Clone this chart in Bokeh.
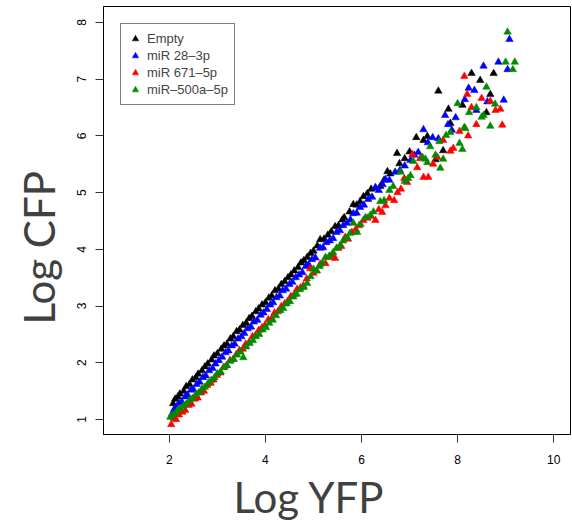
import math
from bokeh.plotting import figure
from bokeh.models import Range1d, FixedTicker, Legend, LegendItem, Title
from bokeh.embed import file_html
from bokeh.resources import INLINE

# ---------------- data ----------------
series_names = ["Empty", "miR 28–3p", "miR 671–5p", "miR–500a–5p"]
series_colors = ["#000000", "#0000ff", "#ff0000", "#008b00"]

empty_x = [2.08,2.12,2.18,2.22,2.30,2.35,2.42,2.48,2.55,2.60,2.68,2.74,2.80,2.88,2.93,3.00,
           3.08,3.14,3.20,3.27,3.33,3.40,3.46,3.53,3.60,3.66,3.72,3.80,3.86,3.93,4.00,
           4.07,4.13,4.20,4.27,4.33,4.40,4.47,4.53,4.60,4.68,4.74,4.80,4.87,4.94,5.00,
           5.08,5.14,5.22,5.30,5.37,5.45,5.52,5.60,5.64,5.75,5.83,5.90,5.97,
           6.04,6.12,6.20,6.29,6.39,6.47,6.54,6.60,6.74,6.79,6.90,7.00,
           7.14,7.29,7.37,7.54,7.60,7.70,7.81,7.85,8.10,8.29,8.47,8.60,8.68,8.75]
empty_y = [1.28,1.36,1.40,1.45,1.50,1.58,1.62,1.70,1.74,1.80,1.86,1.93,1.98,2.05,2.12,2.16,
           2.24,2.30,2.33,2.42,2.46,2.55,2.58,2.66,2.70,2.78,2.82,2.90,2.95,3.02,3.06,
           3.14,3.18,3.27,3.30,3.38,3.43,3.50,3.55,3.62,3.68,3.76,3.80,3.86,3.93,3.97,
           4.06,4.17,4.18,4.25,4.31,4.40,4.42,4.52,4.56,4.66,4.79,4.78,4.84,
           4.93,4.98,5.06,5.08,5.11,5.22,5.37,5.33,5.69,5.51,5.60,5.72,
           5.97,5.92,5.99,5.58,6.79,5.74,6.47,6.22,6.54,7.10,6.98,6.41,6.73,7.10]

mir28_x = [2.06,2.10,2.15,2.20,2.26,2.33,2.38,2.45,2.50,2.57,2.63,2.70,2.76,2.83,2.90,2.96,
           3.03,3.10,3.17,3.23,3.30,3.36,3.43,3.50,3.56,3.63,3.70,3.76,3.83,3.90,3.96,
           4.03,4.10,4.16,4.23,4.30,4.36,4.43,4.50,4.56,4.63,4.70,4.77,4.84,4.90,4.97,
           5.04,5.14,5.20,5.27,5.34,5.41,5.48,5.55,5.62,5.70,5.77,5.83,5.90,5.97,
           6.05,6.14,6.22,6.29,6.36,6.44,6.50,6.58,6.70,6.80,6.90,
           7.02,7.10,7.18,7.29,7.38,7.48,7.60,7.74,7.80,7.88,7.96,
           8.15,8.23,8.35,8.39,8.54,8.62,8.85,8.96,9.04,9.08]
mir28_y = [1.10,1.18,1.22,1.29,1.31,1.40,1.43,1.52,1.53,1.62,1.66,1.74,1.77,1.86,1.90,1.98,
           2.04,2.10,2.18,2.21,2.30,2.33,2.42,2.46,2.52,2.60,2.63,2.72,2.75,2.84,2.88,
           2.94,3.02,3.06,3.15,3.18,3.27,3.30,3.38,3.42,3.50,3.55,3.59,3.70,3.73,3.82,
           3.85,4.02,4.03,4.12,4.15,4.19,4.30,4.33,4.42,4.46,4.52,4.63,4.64,4.74,
           4.78,4.88,4.92,5.09,5.04,5.14,5.23,5.22,5.36,5.39,5.47,
           5.57,5.66,5.71,6.11,5.88,5.97,5.95,6.36,6.20,6.10,6.32,
           6.64,6.84,6.80,6.45,7.23,6.60,7.30,6.63,7.17,7.70]

mir671_x = [2.04,2.09,2.14,2.20,2.27,2.33,2.40,2.46,2.53,2.59,2.66,2.72,2.79,2.86,2.92,2.99,
            3.06,3.13,3.19,3.26,3.33,3.39,3.46,3.53,3.59,3.66,3.73,3.79,3.86,3.93,3.99,
            4.06,4.13,4.19,4.26,4.33,4.40,4.46,4.53,4.60,4.66,4.73,4.79,4.86,4.93,5.00,
            5.07,5.14,5.25,5.32,5.38,5.45,5.52,5.58,5.66,5.72,5.80,5.88,5.95,
            6.04,6.12,6.20,6.29,6.36,6.43,6.50,6.58,6.68,6.75,6.82,6.89,6.95,
            7.06,7.16,7.22,7.29,7.39,7.49,7.58,7.70,7.85,7.91,
            8.04,8.14,8.20,8.22,8.29,8.39,8.50,8.68,8.79,8.89,8.93]
mir671_y = [0.91,1.02,1.00,1.08,1.13,1.16,1.25,1.27,1.36,1.38,1.47,1.50,1.60,1.64,1.70,1.78,
            1.82,1.92,1.95,2.04,2.06,2.14,2.22,2.24,2.33,2.36,2.46,2.48,2.57,2.62,2.66,
            2.76,2.78,2.88,2.90,2.99,3.04,3.08,3.17,3.20,3.30,3.32,3.36,3.48,3.66,3.58,
            3.62,3.74,3.75,3.86,3.90,3.84,4.02,4.05,4.21,4.18,4.30,4.35,4.42,
            4.51,4.55,4.58,4.51,4.70,4.65,4.77,4.90,4.86,5.00,5.06,5.25,5.18,
            5.67,5.44,5.60,5.27,5.27,5.50,5.62,5.92,5.73,5.78,
            6.08,7.05,6.73,6.00,6.50,6.20,6.66,6.61,6.45,6.47,6.19]

mir500_x = [2.02,2.07,2.12,2.17,2.23,2.29,2.35,2.42,2.48,2.55,2.61,2.68,2.74,2.81,2.87,2.94,
            3.00,3.07,3.14,3.20,3.27,3.34,3.41,3.48,3.54,3.60,3.67,3.74,3.80,3.87,3.94,
            4.01,4.08,4.15,4.22,4.31,4.37,4.44,4.51,4.58,4.65,4.72,4.80,4.87,4.94,
            5.00,5.06,5.13,5.19,5.25,5.33,5.41,5.48,5.55,5.62,5.70,5.76,5.83,5.91,5.98,
            6.08,6.18,6.25,6.39,6.47,6.58,6.66,6.81,6.90,6.97,
            7.02,7.08,7.27,7.33,7.37,7.43,7.54,7.62,7.64,7.70,7.76,7.85,
            8.00,8.04,8.10,8.14,8.16,8.24,8.39,8.50,8.54,8.60,8.68,8.78,
            9.00,9.04,9.15,9.19]
mir500_y = [1.04,1.08,1.10,1.16,1.19,1.24,1.27,1.34,1.37,1.44,1.47,1.54,1.57,1.64,1.69,1.74,
            1.81,1.84,1.92,1.95,2.03,2.06,2.14,2.19,2.09,2.28,2.34,2.39,2.46,2.50,2.58,
            2.62,2.70,2.75,2.83,2.92,2.96,3.04,3.08,3.16,3.21,3.29,3.33,3.40,3.52,
            3.65,3.62,3.70,3.76,3.86,3.88,3.94,4.02,4.06,4.15,4.20,4.28,4.46,4.30,4.44,
            4.56,4.60,4.66,4.84,4.86,5.04,5.11,5.36,5.20,5.25,
            5.30,5.55,5.62,5.59,5.53,5.81,5.66,5.90,5.43,5.59,6.01,6.06,
            6.57,5.87,5.76,6.15,6.13,6.41,6.50,6.33,6.36,6.86,6.17,6.56,
            7.30,7.83,7.17,7.30]

x_ticks = [2, 4, 6, 8, 10]
y_ticks = [1, 2, 3, 4, 5, 6, 7, 8]
x_label = "Log YFP"
y_label = "Log CFP"

# ---------------- figure ----------------
p = figure(frame_width=467, frame_height=428,
           min_border_left=103, min_border_right=2, min_border_top=6, min_border_bottom=96,
           output_backend="svg", toolbar_location=None,
           x_range=Range1d(0.63, 10.35), y_range=Range1d(0.735, 8.28))
p.xgrid.visible = False
p.ygrid.visible = False
p.outline_line_color = "black"
p.outline_line_width = 1
p.outline_line_alpha = 1.0
p.background_fill_color = "white"
p.border_fill_color = "white"

for ax, ticks in ((p.xaxis[0], x_ticks), (p.yaxis[0], y_ticks)):
    ax.ticker = FixedTicker(ticks=ticks)
    ax.minor_tick_line_color = None
    ax.major_tick_in = 0
    ax.major_tick_out = 8
    ax.major_tick_line_color = "#333333"
    ax.axis_line_color = "black"
    ax.major_label_text_font = "Liberation Sans"
    ax.major_label_text_font_size = "12px"
    ax.major_label_text_color = "black"

p.xaxis.major_label_standoff = 12
p.yaxis.major_label_standoff = 9
p.yaxis.major_label_orientation = "vertical"

names_x = [empty_x, mir28_x, mir671_x, mir500_x]
names_y = [empty_y, mir28_y, mir671_y, mir500_y]
items = []
for name, col, xs, ys in zip(series_names, series_colors, names_x, names_y):
    n = min(len(xs), len(ys))
    r = p.scatter(xs[:n], ys[:n], marker="triangle", size=7.5,
                  fill_color=col, line_color=col, line_width=0.5)
    items.append(LegendItem(label=name, renderers=[r]))

legend = Legend(items=items, location="top_left")
legend.margin = 17
legend.padding = 6
legend.spacing = 0
legend.label_height = 17
legend.glyph_height = 17
legend.glyph_width = 16
legend.label_standoff = 4
legend.label_text_font = "Liberation Sans"
legend.label_text_font_size = "13px"
legend.border_line_color = "black"
legend.border_line_width = 1
legend.background_fill_color = "white"
legend.background_fill_alpha = 1.0
p.add_layout(legend, "center")

t_y = Title(text=y_label, align="left", offset=110, standoff=21,
            text_font="Lato", text_font_size="42px", text_font_style="normal",
            text_color="#404040")
p.add_layout(t_y, "left")
t_x = Title(text=x_label, align="left", offset=130, standoff=6,
            text_font="Lato", text_font_size="42px", text_font_style="normal",
            text_color="#404040")
p.add_layout(t_x, "below")

open("out.html", "w").write(file_html(p, INLINE))
